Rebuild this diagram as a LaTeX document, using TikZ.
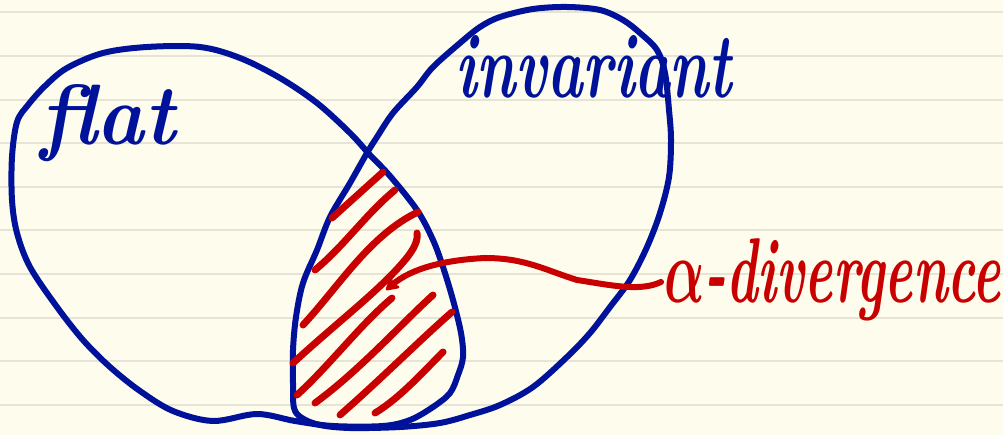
\documentclass[tikz,border=0pt]{standalone}
\usetikzlibrary{arrows.meta,calc}
\definecolor{paper}{RGB}{254,252,237}
\definecolor{rulecol}{RGB}{230,228,214}
\definecolor{ink}{RGB}{0,18,154}
\definecolor{redink}{RGB}{200,0,0}
\begin{document}
\begin{tikzpicture}[x=1pt,y=-1pt, line cap=round, line join=round,
  blueline/.style={draw=ink,line width=6pt},
  hatchline/.style={draw=redink,line width=7pt},
  arrowline/.style={draw=redink,line width=6pt,-{Stealth[length=16pt,width=18pt,round]}},
  lbl/.style={inner sep=0pt,outer sep=0pt,anchor=base west}]
\fill[paper] (0,0) rectangle (1003,435);
\useasboundingbox (0,0) rectangle (1003,435);
\foreach \k in {0,...,9} \draw[rulecol, line width=2pt] (0,12.5+43.6*\k) -- (1003,12.5+43.6*\k);

% "flat" set
\draw[blueline] plot[smooth cycle, tension=0.55] coordinates {
 (257,414) (213,421) (173,411) (140,391) (110,367) (83,340) (57,307) (30,267)
 (17,233) (12,200) (12,157) (17,122) (28,105) (45,86) (67,68) (103,53) (147,47)
 (200,47) (240,58) (280,78) (317,103) (350,133) (370,155) (390,176) (417,210)
 (433,240) (443,267) (453,300) (461,333) (463,357) (458,375) (450,393) (433,407)
 (410,420) (383,426) (333,426) (295,421)};

% "invariant" set
\draw[blueline] plot[smooth cycle, tension=0.55] coordinates {
 (500,17) (480,27) (460,43) (433,67) (417,87) (393,113) (377,137) (367,153)
 (350,183) (330,217) (317,250) (303,283) (296,317) (293,350) (293,383) (294,408)
 (302,418) (320,425) (350,428) (400,427) (440,423) (470,415) (500,405) (533,387)
 (567,357) (590,333) (610,307) (630,280) (647,247) (660,213) (669,177) (671,140)
 (669,110) (665,73) (657,50) (640,33) (623,20) (600,10) (567,7) (533,9)};

% hatching of the intersection
\draw[hatchline] (332,218) -- (383,172);
\draw[hatchline] (315,270) .. controls (345,245) and (365,215) .. (395,190);
\draw[hatchline] (303,325) .. controls (340,285) and (370,235) .. (418,212);
\draw[hatchline] (293,363) .. controls (340,320) and (380,290) .. (405,260) .. controls (415,248) and (418,240) .. (417,233);
\draw[hatchline] (297,395) .. controls (330,365) and (360,325) .. (392,298);
\draw[hatchline] (315,403) .. controls (360,370) and (400,325) .. (433,295);
\draw[hatchline] (340,415) .. controls (380,380) and (420,340) .. (452,312);
\draw[hatchline] (375,413) .. controls (400,398) and (425,370) .. (443,352);

% labels
\node[lbl, text=ink] (flat) at (40,145) {\resizebox{135pt}{60pt}{\bfseries\itshape flat}};
\node[lbl, text=ink] (inv) at (455,98) {\resizebox{277pt}{62pt}{\bfseries\itshape invariant}};
\node[lbl, text=redink] (div) at (664,302) {\resizebox{337pt}{64pt}{\boldmath\bfseries\itshape $\alpha$-divergence}};

% arrow from the label into the intersection
\coordinate (tip) at (386,290);
\draw[arrowline] ($(div.base west)+(-3,-20)$) .. controls (640,292) and (610,285) .. (577,280)
  .. controls (545,270) and (525,258) .. (485,258)
  .. controls (445,260) and (412,268) .. (tip);
\end{tikzpicture}
\end{document}
